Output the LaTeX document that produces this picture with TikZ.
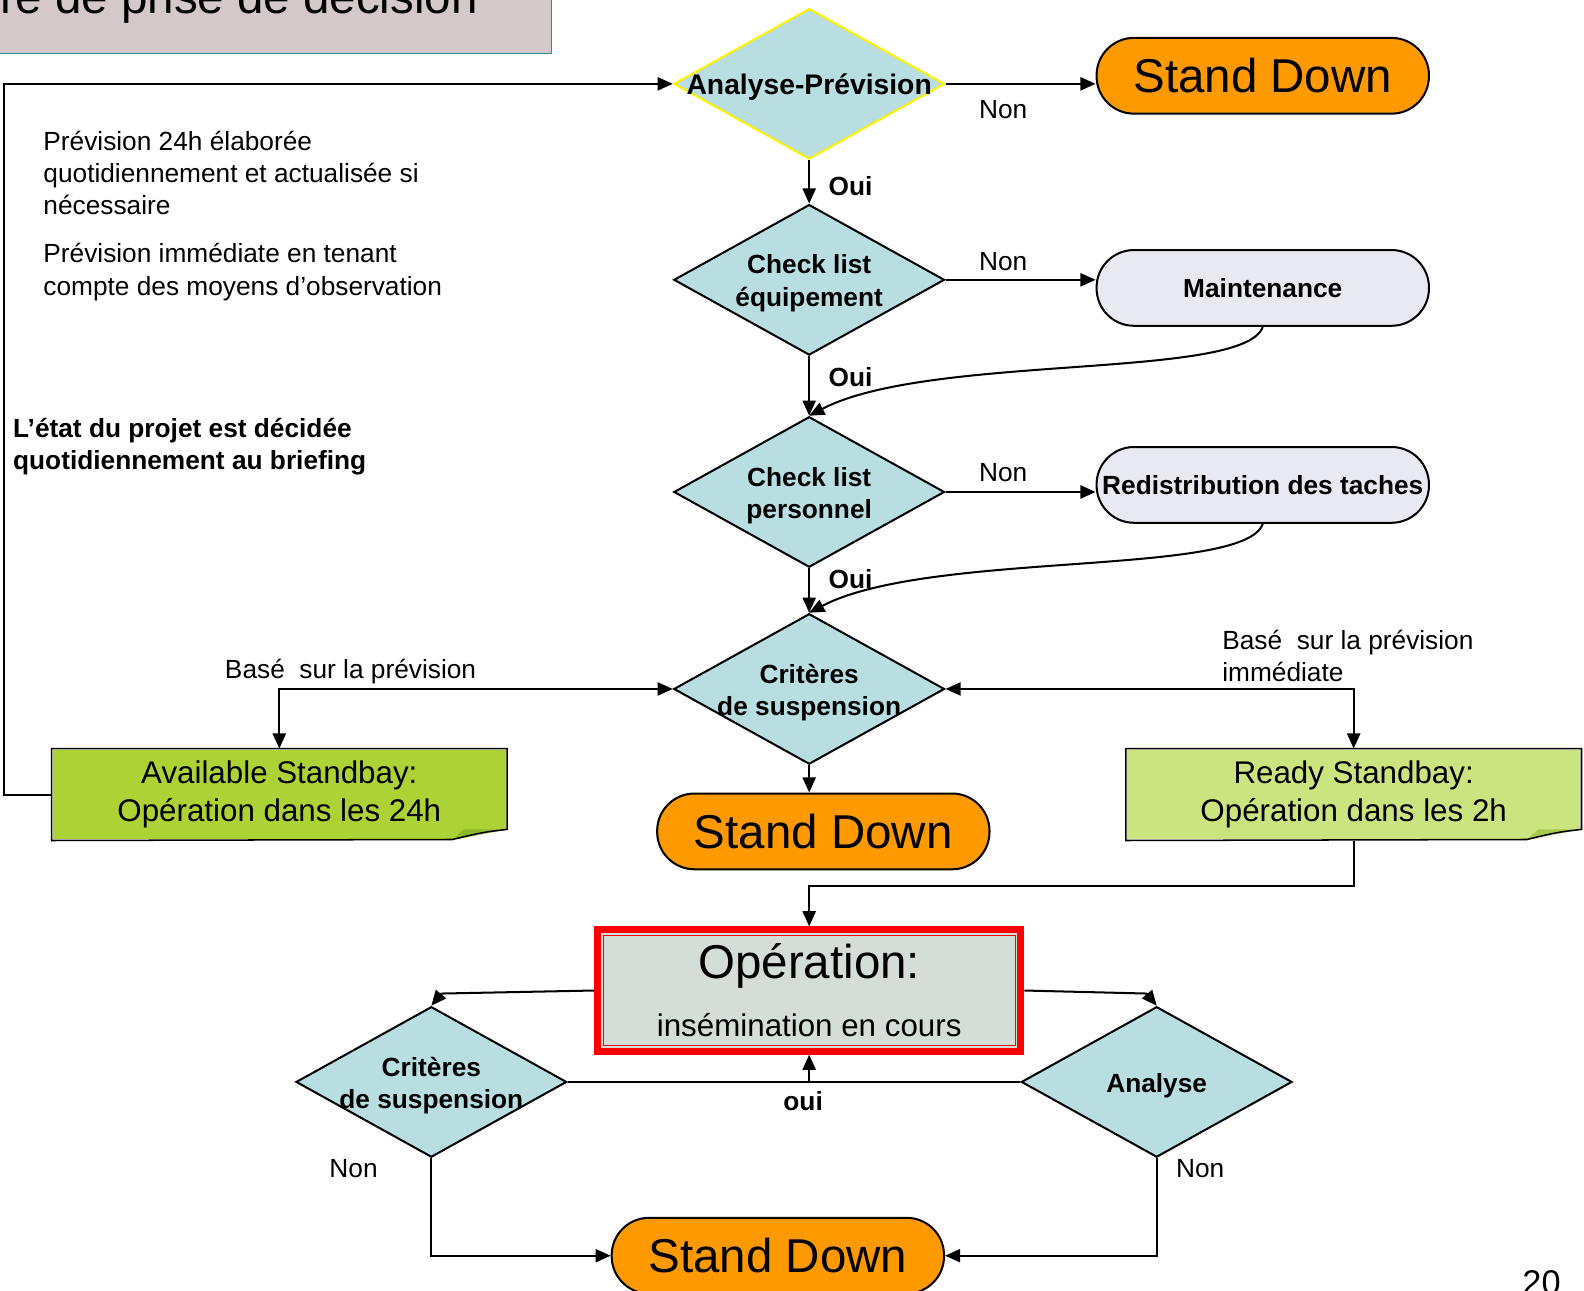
\documentclass[tikz,border=0pt]{standalone}
\usepackage{fontspec}
\setmainfont{Liberation Sans}
\usetikzlibrary{arrows.meta,shapes.geometric,positioning,calc}

\definecolor{diablue}{HTML}{B9DEE2}
\definecolor{sdorange}{HTML}{FF9900}
\definecolor{pillgrey}{HTML}{E9E9F1}
\definecolor{avlgreen}{HTML}{ADD236}
\definecolor{rdygreen}{HTML}{CCE47F}
\definecolor{avlfold}{HTML}{8DB82A}
\definecolor{rdyfold}{HTML}{A6CB4E}
\definecolor{titlefill}{HTML}{D5C8C8}
\definecolor{titledraw}{HTML}{2E8C96}
\definecolor{opfill}{HTML}{D4DDD6}

\tikzset{
  arr/.style={-{Triangle[length=15pt,width=13pt]}},
  arrboth/.style={{Triangle[length=15pt,width=13pt]}-{Triangle[length=15pt,width=13pt]}},
  dia/.style={diamond, draw, fill=diablue, inner sep=0pt, minimum width=268pt, minimum height=149pt},
  dlab/.style={align=center, inner sep=0pt, yshift=-3.5pt, font=\bfseries\fontsize{26}{32}\selectfont},
  pill/.style={draw, rounded corners=37pt, minimum width=329pt, minimum height=75pt, inner sep=0pt},
  sd/.style={pill, fill=sdorange, font=\fontsize{47}{56}\selectfont},
  task/.style={pill, fill=pillgrey, font=\bfseries\fontsize{26}{32}\selectfont},
  note/.style={fill=#1, minimum width=449pt, minimum height=89pt, inner sep=0pt, align=center, font=\fontsize{31}{38}\selectfont},
  lab/.style={inner sep=0pt, font=\fontsize{26}{32}\selectfont},
  blab/.style={inner sep=0pt, font=\bfseries\fontsize{26}{32}\selectfont},
}

\begin{document}
\begin{tikzpicture}[x=1pt,y=-1pt,line width=2pt]
\useasboundingbox (0,0) rectangle (1568,1277);
\clip (0,0) rectangle (1568,1277);

% title
\draw[fill=titlefill, draw=titledraw, line width=1.5pt] (-10,-60) rectangle (546,53);
\node[anchor=base west, inner sep=0pt, font=\fontsize{47}{56}\selectfont] (title) at (-1,13) {re de prise de décision};

% decisions
\node[dia, draw=yellow, label={[dlab, font=\bfseries\fontsize{28}{34}\selectfont]center:Analyse-Prévision}] (ap) at (801,83) {};
\node[dia, label={[dlab]center:Check list\\équipement}] (ceq) at (801,277) {};
\node[dia, label={[dlab]center:Check list\\personnel}] (cpe) at (801,487) {};
\node[dia, label={[dlab]center:Critères\\de suspension}] (crit) at (801,682) {};
\node[dia, label={[dlab]center:Critères\\de suspension}] (crit2) at (427,1071) {};
\node[dia, label={[dlab]center:Analyse}] (ana) at (1145,1071) {};

% terminals
\node[sd] (sd1) at (1250,75) {Stand Down};
\node[task] (mnt) at (1250,285) {Maintenance};
\node[task] (red) at (1250,480) {Redistribution des taches};
\node[sd] (sd2) at (815,823) {Stand Down};
\node[sd] (sd3) at (770,1243) {Stand Down};

% standby notes
\node[note=avlgreen] (avl) at (276.5,786.5) {Available Standbay:\\Opération dans les 24h};
\node[note=rdygreen] (rdy) at (1340,786.5) {Ready Standbay:\\Opération dans les 2h};
\foreach \n/\f in {avl/avlfold,rdy/rdyfold}{
  \fill[white] ([xshift=-55pt]\n.south east) -- (\n.south east) -- ([yshift=11pt]\n.south east) -- cycle;
  \fill[\f] ([xshift=-54pt,yshift=1pt]\n.south east) .. controls ([xshift=-25pt,yshift=8pt]\n.south east) .. ([xshift=-1pt,yshift=11pt]\n.south east) -- ([xshift=-43pt,yshift=11pt]\n.south east) -- cycle;
  \draw[line width=1.5pt] (\n.north west) -- (\n.north east) -- ([yshift=11pt]\n.south east) .. controls ([xshift=-25pt,yshift=8pt]\n.south east) .. ([xshift=-54pt,yshift=1pt]\n.south east) -- (\n.south west) -- cycle;
}

% operation
\node[draw=red, line width=7pt, fill=opfill, minimum width=419pt, minimum height=120pt, inner sep=0pt, align=center] (op) at (801,980.5)
  {\fontsize{47}{57}\selectfont Opération:\\[24pt]\fontsize{31}{37}\selectfont insémination en cours};
\draw[red, line width=1pt] ([xshift=9pt,yshift=-9pt]op.north west) rectangle ([xshift=-9pt,yshift=9pt]op.south east);

% side texts
\node[lab, anchor=north west, align=left] (prev24) at (42,128.5) {Prévision 24h élaborée\\quotidiennement et actualisée si\\nécessaire};
\node[lab, anchor=north west, align=left] (previmm) at (42,240) {Prévision immédiate en tenant\\compte des moyens d’observation};
\node[blab, anchor=north west, align=left] (etat) at (12,413) {L’état du projet est décidée\\quotidiennement au briefing};
\node[lab] (basg) at (347,665) {Basé\ \ sur la prévision};
\node[lab, anchor=north west, align=left] (basd) at (1209,622.5) {Basé\ \ sur la prévision\\immédiate};

% answers
\node[lab] (non1) at (993,108) {Non};
\node[lab] (non2) at (993,259) {Non};
\node[lab] (non3) at (993,468) {Non};
\node[lab] (non4) at (350,1157) {Non};
\node[lab] (non5) at (1188,1157) {Non};
\node[blab] (oui1) at (842,184) {Oui};
\node[blab] (oui2) at (842,373) {Oui};
\node[blab] (oui3) at (842,573) {Oui};
\node[blab] (oui4) at (795,1090) {oui};

% connectors
\draw[arr] (avl.west) -- ++(-47,0) |- (ap.west);
\draw[arr] (ap.east) -- (ap.east -| sd1.west);
\draw[arr] (ap.south) -- (ceq.north);
\draw[arr] (ceq.east) -- (ceq.east -| mnt.west);
\draw[arr] (ceq.south) -- (cpe.north);
\draw[arr] (mnt.south) .. controls +(-18,53) and +(119,-62) .. (cpe.north);
\draw[arr] (cpe.east) -- (cpe.east -| red.west);
\draw[arr] (cpe.south) -- (crit.north);
\draw[arr] (red.south) .. controls +(-18,53) and +(119,-62) .. (crit.north);
\draw[arrboth] (crit.west) -| (avl.north);
\draw[arrboth] (crit.east) -| (rdy.north);
\draw[arr] (crit.south) -- (crit.south |- sd2.north);
\draw[arr] (rdy.south) -- ++(0,45) -| (op.north);
\draw[arr] (op.west) -- ([xshift=10pt,yshift=12pt]crit2.north) -- (crit2.north);
\draw[arr] (op.east) -- ([xshift=-10pt,yshift=12pt]ana.north) -- (ana.north);
\draw (crit2.east) -- (ana.west);
\draw[arr] (op.south |- crit2.east) -- (op.south);
\draw[arr] (crit2.south) |- (sd3.west);
\draw[arr] (ana.south) |- (sd3.east);

% page number
\node[anchor=base, inner sep=0pt, font=\fontsize{34}{40}\selectfont] (pg) at (1526,1281) {20};
\end{tikzpicture}
\end{document}
